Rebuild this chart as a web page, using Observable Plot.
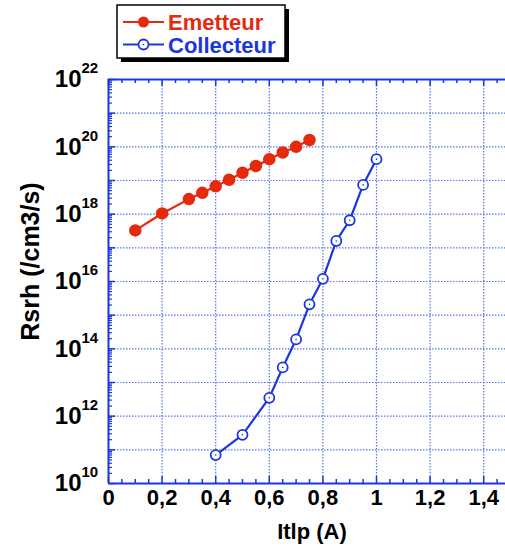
<!DOCTYPE html>
<html>
<head>
<meta charset="utf-8">
<script src="https://cdn.jsdelivr.net/npm/d3@7"></script>
<script src="https://cdn.jsdelivr.net/npm/@observablehq/plot@0.6"></script>
<style>
  html, body { margin: 0; padding: 0; background: white; overflow: hidden; }
  #wrap { position: relative; width: 505px; height: 546px; }
  #legend { position: absolute; left: 0; top: 0; }
  svg { font-family: "Liberation Sans", Arial, sans-serif; }
</style>
</head>
<body>
<div id="wrap"></div>
<script>
// ---- data ----
const emX = [0.1, 0.2, 0.3, 0.35, 0.4, 0.45, 0.5, 0.55, 0.6, 0.65, 0.7, 0.75];
const emY = [3.3e17, 1.05e18, 2.8e18, 4.3e18, 6.7e18, 1.05e19, 1.7e19, 2.7e19, 4.3e19, 6.8e19, 1.0e20, 1.6e20];
const coX = [0.4, 0.5, 0.6, 0.65, 0.7, 0.75, 0.8, 0.85, 0.9, 0.95, 1.0];
const coY = [7e10, 2.8e11, 3.5e12, 2.8e13, 1.9e14, 2.1e15, 1.2e16, 1.6e17, 6.6e17, 7.4e18, 4.3e19];
const seriesNames = ["Emetteur", "Collecteur"];

const xMajor = [0, 0.2, 0.4, 0.6, 0.8, 1.0, 1.2, 1.4];
const xMinor = [0.05, 0.1, 0.15, 0.25, 0.3, 0.35, 0.45, 0.5, 0.55, 0.65, 0.7, 0.75, 0.85, 0.9, 0.95, 1.05, 1.1, 1.15, 1.25, 1.3, 1.35, 1.45];
const yExponents = [10, 11, 12, 13, 14, 15, 16, 17, 18, 19, 20, 21, 22];
const yLabelExponents = [10, 12, 14, 16, 18, 20, 22];
const xTitle = "Itlp (A)";
const yTitle = "Rsrh (/cm3/s)";

// ---- derived ----
const emData = emX.map((x, i) => ({x, y: emY[i]}));
const coData = coX.map((x, i) => ({x, y: coY[i]}));
const yMajor = yExponents.map(e => Math.pow(10, e));
const yMinor = [];
yExponents.slice(0, -1).forEach(e => { for (let k = 2; k <= 9; k++) yMinor.push(k * Math.pow(10, e)); });
const yLabels = yLabelExponents.map(e => ({v: Math.pow(10, e), e: String(e)}));

const W = 505, H = 546;
const mL = 108, mT = 79, mB = 63, mR = 0;
const fw = W - mL - mR, fh = H - mT - mB;
const blue = "#1b36e0";
const gridBlue = "#3a5cf0";
const red = "#e5290c";
const font = "Liberation Sans, Arial, sans-serif";

const chart = Plot.plot({
  width: W, height: H,
  marginLeft: mL, marginTop: mT, marginBottom: mB, marginRight: mR,
  style: {fontFamily: font, background: "white", overflow: "hidden"},
  x: {domain: [0, fw / 268], range: [mL, W - mR], axis: null},
  y: {type: "log", domain: [1e10, 1e22], axis: null},
  marks: [
    // grid
    Plot.ruleX(xMajor.slice(1), {stroke: gridBlue, strokeWidth: 1.2, strokeDasharray: "1.5,1.5", strokeOpacity: 0.85}),
    Plot.ruleY(yMajor.slice(1), {stroke: gridBlue, strokeWidth: 1.2, strokeDasharray: "1.5,1.5", strokeOpacity: 0.85}),
    // ticks bottom
    Plot.ruleX(xMajor, {stroke: blue, strokeWidth: 1.5, insetTop: fh - 7}),
    Plot.ruleX(xMinor, {stroke: blue, strokeWidth: 1.5, insetTop: fh - 4}),
    // ticks top
    Plot.ruleX(xMajor, {stroke: blue, strokeWidth: 1.5, insetBottom: fh - 7}),
    Plot.ruleX(xMinor, {stroke: blue, strokeWidth: 1.5, insetBottom: fh - 4}),
    // ticks left
    Plot.ruleY(yMajor, {stroke: blue, strokeWidth: 1.5, insetRight: fw - 7}),
    Plot.ruleY(yMinor, {stroke: blue, strokeWidth: 1.2, insetRight: fw - 4}),
    // frame lines
    Plot.ruleY([1e10, 1e22], {stroke: blue, strokeWidth: 2}),
    Plot.ruleX([0], {stroke: blue, strokeWidth: 2}),
    // x tick labels
    Plot.text(xMajor, {x: d => d, frameAnchor: "bottom", dy: 14, text: d => String(d).replace(".", ","),
      fontSize: 22, fontWeight: "bold", fill: "black", lineAnchor: "middle", textAnchor: "middle"}),
    // y tick labels
    Plot.text(yLabels, {y: "v", frameAnchor: "left", dx: -27, text: () => "10", textAnchor: "end",
      fontSize: 24, fontWeight: "bold", fill: "black", lineAnchor: "middle"}),
    Plot.text(yLabels, {y: "v", frameAnchor: "left", dx: -27, dy: -11, text: "e", textAnchor: "start",
      fontSize: 15, fontWeight: "bold", fill: "black", lineAnchor: "middle"}),
    // axis titles
    Plot.text([xTitle], {frameAnchor: "bottom", dx: 5, dy: 48, fontSize: 22, fontWeight: "bold", fill: "black",
      lineAnchor: "middle", textAnchor: "middle"}),
    Plot.text([yTitle], {frameAnchor: "left", dx: -78, dy: -20, rotate: -90, fontSize: 25, fontWeight: "bold", fill: "black",
      lineAnchor: "middle", textAnchor: "middle"}),
    // data
    Plot.line(emData, {x: "x", y: "y", stroke: red, strokeWidth: 2.2}),
    Plot.dot(emData, {x: "x", y: "y", r: 5.5, fill: red, stroke: red}),
    Plot.line(coData, {x: "x", y: "y", stroke: blue, strokeWidth: 2.2}),
    Plot.dot(coData, {x: "x", y: "y", r: 5, fill: "white", stroke: blue, strokeWidth: 1.8}),
    Plot.dot(coData, {x: "x", y: "y", r: 0.8, fill: blue, stroke: "none"})
  ]
});
document.getElementById("wrap").appendChild(chart);

// legend (overlay)
const ns = "http://www.w3.org/2000/svg";
const leg = document.createElementNS(ns, "svg");
leg.setAttribute("id", "legend");
leg.setAttribute("width", 300);
leg.setAttribute("height", 70);
const colors = [red, blue];
let html = `<rect x="121" y="9" width="168" height="53" fill="black"/>
<rect x="117" y="5" width="168" height="53" fill="white" stroke="black" stroke-width="1.5"/>`;
seriesNames.forEach((name, i) => {
  const cy = 22 + i * 22.5;
  const c = colors[i];
  html += `<line x1="123" x2="164" y1="${cy}" y2="${cy}" stroke="${c}" stroke-width="2.2"/>`;
  html += i === 0
    ? `<circle cx="143.5" cy="${cy}" r="5.5" fill="${c}"/>`
    : `<circle cx="143.5" cy="${cy}" r="5" fill="white" stroke="${c}" stroke-width="1.8"/><circle cx="143.5" cy="${cy}" r="0.8" fill="${c}"/>`;
  html += `<text x="168" y="${cy + 8}" fill="${c}" font-size="22" font-weight="bold" font-family="${font}">${name}</text>`;
});
leg.innerHTML = html;
document.getElementById("wrap").appendChild(leg);
</script>
</body>
</html>
